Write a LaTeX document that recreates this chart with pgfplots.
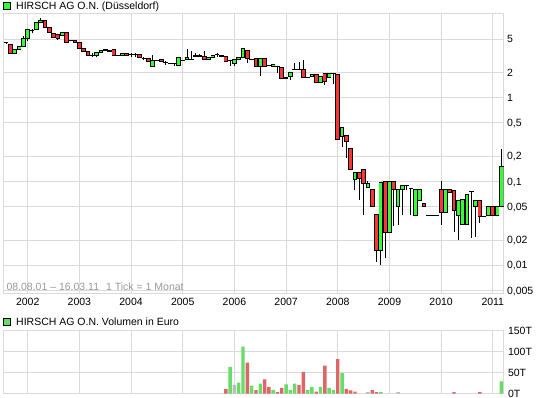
\documentclass[border=0pt]{standalone}
\usepackage{pgfplots}
\pgfplotsset{compat=1.18}
\usepackage{pgfplotstable}
\usepackage{fontspec}
\setmainfont{Liberation Sans}
\definecolor{cgreen}{HTML}{33FF33}
\definecolor{cred}{HTML}{FF3333}
\definecolor{vgreen}{HTML}{66DD66}
\definecolor{vred}{HTML}{DD6666}
\definecolor{vgray}{HTML}{BBBBBB}
\definecolor{gridc}{HTML}{DADADA}
\definecolor{txtgray}{HTML}{9A9A9A}
\newcommand{\lbl}{\fontsize{10.5}{12}\selectfont}

% monthly candles, i = 0 is Aug 2001
\pgfplotstableread{
i o h l c
2 3.39 3.78 3.39 3.78
3 3.78 4.11 3.78 4.11
4 4.11 5.40 4.11 5.06
5 5.06 6.55 4.71 6.55
7 6.55 8.00 6.55 8.00
8 8.00 9.01 8.00 8.39
13 5.56 6.08 5.56 6.08
21 3.23 3.44 3.03 3.44
22 3.44 3.71 3.44 3.71
24 3.58 3.71 3.58 3.71
27 3.23 3.39 3.23 3.39
34 2.39 3.23 2.39 2.76
40 2.46 3.03 2.46 3.03
42 2.87 3.81 2.87 3.00
44 3.09 3.39 3.09 3.21
45 3.15 3.32 3.15 3.21
47 2.90 3.03 2.90 3.03
48 3.03 3.21 3.03 3.21
53 2.57 2.87 2.39 2.87
54 2.87 3.03 2.87 3.03
55 3.03 3.89 3.03 3.89
59 2.39 2.95 1.84 2.95
62 2.39 2.50 2.39 2.50
65 1.69 1.75 1.69 1.75
66 1.78 2.01 1.63 2.01
71 1.78 1.90 1.78 1.90
73 1.53 1.78 1.53 1.78
75 1.75 1.96 1.75 1.96
78 0.349 0.443 0.256 0.443
81 0.107 0.129 0.079 0.129
84 0.085 0.101 0.085 0.095
87 0.0152 0.0978 0.0101 0.0978
89 0.0248 0.0994 0.0248 0.0994
91 0.051 0.0807 0.0303 0.0807
92 0.0807 0.0891 0.0398 0.0891
95 0.0398 0.0807 0.0398 0.0807
96 0.0601 0.0807 0.0601 0.0807
102 0.0429 0.0807 0.0429 0.0807
105 0.0398 0.0601 0.0200 0.0601
106 0.0303 0.0613 0.0303 0.0613
107 0.0303 0.0709 0.0303 0.0709
109 0.051 0.0601 0.022 0.0601
112 0.0388 0.051 0.0388 0.051
114 0.0398 0.051 0.0398 0.051
115 0.051 0.242 0.051 0.150
}\greentab

\pgfplotstableread{
i o h l c
1 4.34 4.34 3.39 3.39
9 8.39 8.39 6.98 6.98
10 6.98 6.98 6.08 6.08
11 5.92 5.92 5.26 5.26
12 5.65 5.65 4.88 5.16
14 5.97 5.97 4.62 4.62
16 4.84 4.84 4.53 4.53
17 4.53 4.53 3.84 3.84
18 3.84 3.84 3.58 3.58
19 3.61 3.61 3.19 3.19
23 3.78 3.78 3.64 3.64
25 3.78 3.78 3.17 3.17
28 3.39 3.39 3.23 3.23
31 3.30 3.30 3.03 3.03
33 2.92 2.92 2.74 2.74
36 2.87 2.87 2.72 2.72
46 3.15 3.64 2.87 2.87
50 3.23 3.23 3.09 3.09
51 3.09 3.09 2.74 2.74
56 3.64 3.64 2.62 2.95
58 2.98 2.98 2.39 2.39
60 2.95 2.95 2.39 2.39
64 2.31 2.31 1.70 1.70
69 2.18 2.82 1.73 1.73
72 1.90 1.90 1.53 1.53
74 1.96 1.96 1.42 1.55
77 1.92 1.92 0.319 0.319
79 0.359 0.359 0.189 0.299
80 0.249 0.249 0.140 0.140
82 0.129 0.129 0.060 0.109
83 0.140 0.140 0.040 0.095
85 0.081 0.081 0.051 0.051
86 0.0406 0.0406 0.011 0.0152
88 0.0994 0.0994 0.0121 0.0248
90 0.0994 0.0994 0.0294 0.0807
97 0.0549 0.0549 0.0510 0.0510
101 0.0807 0.101 0.0303 0.0429
103 0.0807 0.0807 0.0743 0.0743
104 0.0792 0.0792 0.0252 0.0445
110 0.0601 0.0601 0.032 0.038
113 0.051 0.051 0.0398 0.0398
}\redtab

\pgfplotstableread{
i o h l c
0 4.53 4.68 4.44 4.53
6 6.43 6.55 5.87 6.43
15 4.84 4.84 4.84 4.84
20 3.23 3.39 3.09 3.23
26 3.23 3.23 3.23 3.23
29 3.32 3.44 3.03 3.32
30 3.30 3.39 3.09 3.30
32 2.95 3.09 2.82 2.95
35 2.76 2.76 2.76 2.76
37 2.65 2.76 2.48 2.65
38 2.57 2.57 2.57 2.57
39 2.53 2.53 2.39 2.53
41 2.76 2.76 2.76 2.76
43 2.90 3.64 2.90 2.90
49 3.26 3.39 3.09 3.26
52 2.76 2.76 2.39 2.76
57 2.87 2.87 2.87 2.87
61 2.46 2.46 2.46 2.46
63 2.34 2.34 1.96 2.34
67 2.18 2.62 2.18 2.18
68 2.18 2.69 2.18 2.18
70 1.73 1.73 1.73 1.73
76 1.96 1.96 1.45 1.96
93 0.0891 0.0891 0.0792 0.0891
94 0.0836 0.0836 0.0398 0.0836
98 0.0398 0.0398 0.0398 0.0398
99 0.0398 0.0398 0.0398 0.0398
100 0.0398 0.0398 0.0398 0.0398
108 0.0755 0.0755 0.0212 0.0755
111 0.038 0.038 0.038 0.038
}\dojitab

\pgfplotsset{
  ebar/.style n args={2}{draw=none, no markers, forget plot,
    error bars/.cd, y dir=plus, y explicit, error mark=none,
    error bar style={draw=#1, line width=#2, solid}},
  cap/.style={only marks, mark=-, mark size=2.3pt, forget plot,
    mark options={draw=black, line width=1pt}},
}

\begin{document}
\begin{tikzpicture}
\path[use as bounding box] (0,0) rectangle (545pt,398pt);
\fill[white] (0,0) rectangle (545pt,398pt);

\begin{axis}[
  at={(3pt,104.7pt)}, anchor=south west, scale only axis,
  width=500.3pt, height=279.3pt,
  ymode=log, ymin=0.00463, ymax=10,
  xmin=-0.74, xmax=115.44,
  axis line style={gridc, line width=1pt},
  grid=major, major grid style={gridc, line width=1pt},
  minor tick num=0, major tick length=0pt, minor tick length=0pt,
  xtick={5,17,29,41,53,65,77,89,101,113},
  xticklabels={2002,2003,2004,2005,2006,2007,2008,2009,2010,2011},
  ytick={0.005,0.01,0.02,0.05,0.1,0.2,0.5,1,2,5},
  yticklabels={{0,005},{0,01},{0,02},{0,05},{0,1},{0,2},{0,5},1,2,5},
  yticklabel pos=right,
  yticklabel style={anchor=west, inner sep=0pt, xshift=3.5pt, text depth=0pt, font=\lbl},
  xticklabel style={anchor=north, inner sep=0pt, yshift=-4.7pt, font=\lbl},
]
% wicks
\addplot[ebar={black}{1pt}] table[x=i, y=l, y error plus expr=\thisrow{h}-\thisrow{l}] {\greentab};
\addplot[ebar={black}{1pt}] table[x=i, y=l, y error plus expr=\thisrow{h}-\thisrow{l}] {\redtab};
\addplot[ebar={black}{1pt}] table[x=i, y=l, y error plus expr=\thisrow{h}-\thisrow{l}] {\dojitab};
% bodies: outline
\addplot[ebar={black}{4.6pt}] table[x=i, y=o, y error plus expr=\thisrow{c}-\thisrow{o}] {\greentab};
\addplot[ebar={black}{4.6pt}] table[x=i, y=c, y error plus expr=\thisrow{o}-\thisrow{c}] {\redtab};
% bodies: fill
\addplot[ebar={cgreen}{2.8pt}] table[x=i, y=o, y error plus expr=\thisrow{c}-\thisrow{o}] {\greentab};
\addplot[ebar={cred}{2.8pt}] table[x=i, y=c, y error plus expr=\thisrow{o}-\thisrow{c}] {\redtab};
% top and bottom edges of bodies
\addplot[cap] table[x=i, y=o] {\greentab};
\addplot[cap] table[x=i, y=c] {\greentab};
\addplot[cap] table[x=i, y=o] {\redtab};
\addplot[cap] table[x=i, y=c] {\redtab};
\addplot[cap] table[x=i, y=c] {\dojitab};
\end{axis}

\begin{axis}[
  at={(3pt,4.4pt)}, anchor=south west, scale only axis,
  width=500.3pt, height=62.9pt,
  xmin=-0.74, xmax=115.44, ymin=0, ymax=150,
  axis line style={gridc, line width=1pt},
  grid=major, major grid style={gridc, line width=1pt},
  major tick length=0pt,
  xtick={5,17,29,41,53,65,77,89,101,113}, xticklabels={},
  ytick={0,50,100,150}, yticklabels={0T,50T,100T,150T},
  yticklabel pos=right,
  yticklabel style={anchor=west, inner sep=0pt, xshift=4.5pt, font=\lbl},
]
\addplot[ybar, bar width=3.4pt, bar shift=0pt, fill=vgreen, draw=none] coordinates {
(52,64) (54,26) (55,112) (57,19) (59,24) (62,8.4) (65,22) (66,8.4) (67,24) (70,8.4)
(71,16) (73,16) (75,13.5) (76,8.4) (78,49) (87,3.4) (115,29)};
\addplot[ybar, bar width=3.4pt, bar shift=0pt, fill=vred, draw=none] coordinates {
(51,11) (56,74) (58,8.4) (60,34) (61,16) (63,3.4) (64,13.5) (68,21) (69,51) (72,5)
(74,67) (77,82) (79,11) (80,7.6) (81,5) (85,8.4) (86,3.4) (104,3.4) (110,3.4)};
\addplot[ybar, bar width=3.4pt, bar shift=0pt, fill=vgray, draw=none] coordinates {
(53,21) (84,3.4) (91,3.4)};
\end{axis}

\draw[black, line width=0.8pt, fill=cgreen] (3.1pt,388.3pt) rectangle (10.5pt,395.3pt);
\node[anchor=base west, inner sep=0pt, font=\lbl] at (16pt,388pt) {HIRSCH AG O.N. (Düsseldorf)};
\draw[black, line width=0.8pt, fill=vgreen] (3.5pt,72.3pt) rectangle (10.5pt,79.5pt);
\node[anchor=base west, inner sep=0pt, font=\lbl] at (16pt,72pt) {HIRSCH AG O.N. Volumen in Euro};
\node[anchor=base west, inner sep=0pt, font=\lbl, text=txtgray] at (6.3pt,107pt) {08.08.01 – 16.03.11\hspace{7pt}1 Tick = 1 Monat};
\end{tikzpicture}
\end{document}
